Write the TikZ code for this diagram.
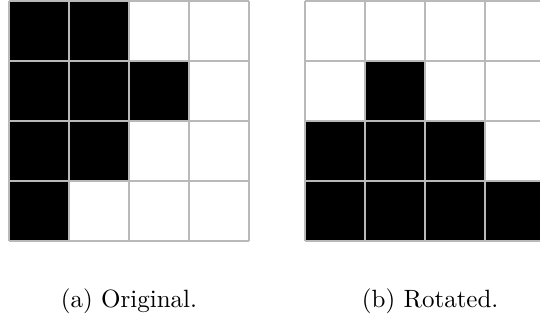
\documentclass[tikz,border=0pt]{standalone}
\usepackage{amsmath}
\usepackage{tikz}

\begin{document}
\begin{tikzpicture}[x=24pt,y=24pt,
    cellgrid/.style={draw=gray!55, line width=0.6pt},
    blackcell/.style={fill=black}]
  \useasboundingbox (0,0) rectangle (9,5.333);
  \clip (0,0) rectangle (9,5.333);
  \coordinate (P) at (0.15,1.317);
  \coordinate (Q) at (5.083,1.317);
  % original
  \begin{scope}[shift={(P)}]
    \fill[blackcell] (0,0) rectangle (1,1);
    \fill[blackcell] (0,1) rectangle (2,2);
    \fill[blackcell] (0,2) rectangle (3,3);
    \fill[blackcell] (0,3) rectangle (2,4);
    \draw[cellgrid, step=24pt] (0,0) grid (4,4);
  \end{scope}
  % rotated
  \begin{scope}[shift={(Q)}]
    \fill[blackcell] (0,0) rectangle (4,1);
    \fill[blackcell] (0,1) rectangle (3,2);
    \fill[blackcell] (1,2) rectangle (2,3);
    \draw[cellgrid, step=24pt] (0,0) grid (4,4);
  \end{scope}
  \node[anchor=base] (capA) at (2.15,0.2) {(a) Original.};
  \node[anchor=base] (capB) at (7.17,0.2) {(b) Rotated.};
\end{tikzpicture}
\end{document}
